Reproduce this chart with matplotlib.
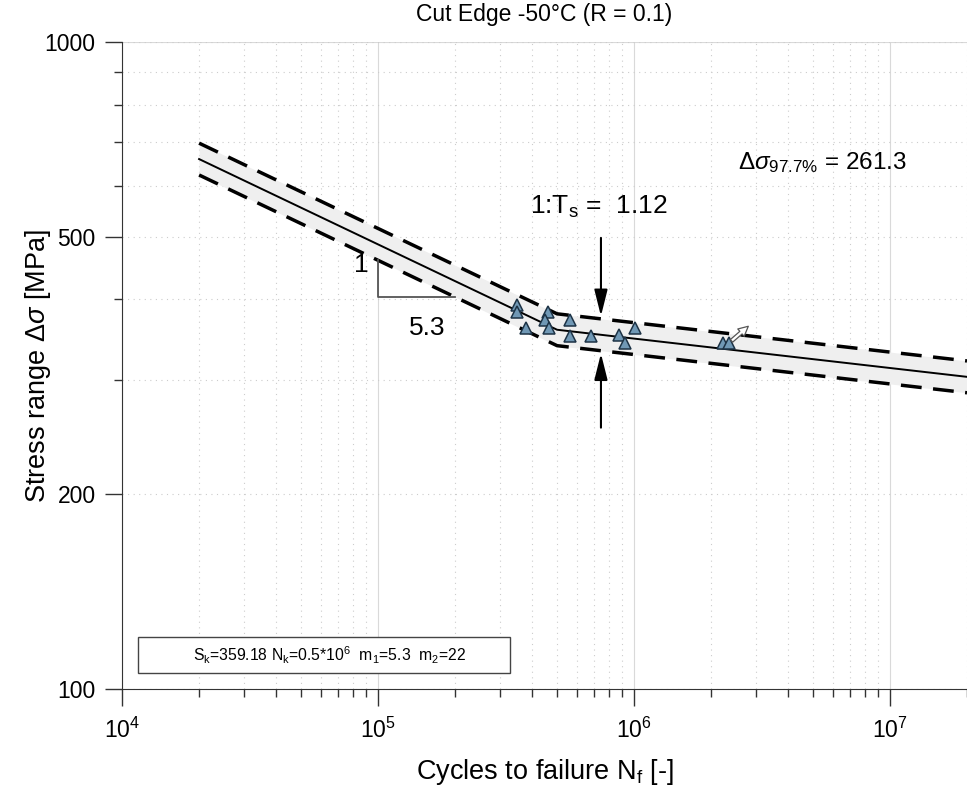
import numpy as np
import matplotlib.pyplot as plt
from matplotlib.patches import Rectangle
from matplotlib.ticker import FixedLocator, NullFormatter, LogLocator

plt.rcParams['font.family'] = ['Liberation Sans', 'DejaVu Sans']
plt.rcParams['mathtext.fontset'] = 'custom'
plt.rcParams['mathtext.rm'] = 'Liberation Sans'
plt.rcParams['mathtext.it'] = 'Liberation Sans:italic'

# S-N parameters
Sk = 359.18
Nk = 0.5e6
m1 = 5.3
m2 = 22
Ts = 1.12
ds_97 = 261.3

# test data
N_test = [3.48e5, 3.48e5, 3.80e5, 4.60e5, 4.48e5, 4.64e5, 5.61e5, 5.61e5,
          6.78e5, 8.73e5, 9.22e5, 1.01e6, 2.23e6, 2.36e6]
S_test = [392, 382, 361, 382, 372, 361, 372, 351,
          351, 352, 343, 361, 343, 343]

# runout (arrow from last point)
runout_start = (2.36e6, 343)
runout_end = (2.85e6, 366)

N = np.logspace(np.log10(2e4), np.log10(2e7), 400)
N = np.sort(np.append(N, Nk))
S = np.where(N < Nk, Sk * (Nk / N) ** (1 / m1), Sk * (Nk / N) ** (1 / m2))
k = np.sqrt(Ts)
S_up = S * k
S_lo = S / k

fig = plt.figure(figsize=(9.67, 7.94), dpi=100)
ax = fig.add_axes([0.1262, 0.1322, 0.8738, 0.8149])

ax.fill_between(N, S_lo, S_up, color='#efefef', lw=0, zorder=1)
ax.plot(N, S, color='black', lw=1.4, zorder=3)
ax.plot(N, S_up, color='black', lw=2.5, dashes=(6, 3.3), zorder=3)
ax.plot(N, S_lo, color='black', lw=2.5, dashes=(6, 3.3), zorder=3)

ax.plot(N_test, S_test, '^', ms=8.5, mfc='#7098b5', mec='#1d3346', mew=1.1, zorder=5)

ax.annotate('', xy=runout_end, xytext=runout_start,
            arrowprops=dict(arrowstyle='simple,head_width=0.7,head_length=0.7,tail_width=0.25',
                            fc='white', ec='#555555', lw=0.9), zorder=6)

# slope triangle on the lower band line
def lower(n):
    return Sk * (Nk / n) ** (1 / m1) / k

ax.plot([1e5, 1e5, 2e5], [lower(1e5), lower(2e5), lower(2e5)], color='#555555', lw=1.3, zorder=4)
ax.text(8.6e4, 452, '1', fontsize=19, ha='center', va='center')
ax.text(1.55e5, 361, '5.3', fontsize=19, ha='center', va='center')

# scatter band arrows
xa = 7.43e5
s_up = Sk * (Nk / xa) ** (1 / m2) * k
s_lo = Sk * (Nk / xa) ** (1 / m2) / k
arrow_style = '-|>,head_width=0.4,head_length=1.6'
ax.annotate('', xy=(xa, s_up), xytext=(xa, 503),
            arrowprops=dict(arrowstyle=arrow_style, color='black', lw=1.5))
ax.annotate('', xy=(xa, s_lo), xytext=(xa, 251),
            arrowprops=dict(arrowstyle=arrow_style, color='black', lw=1.5))
ax.text(3.91e5, 556, r'1:T$_\mathregular{s}$ =  ' + f'{Ts:.2f}', fontsize=19, va='center')

ax.text(2.55e6, 652, r'$\Delta\sigma_{97.7\%}$' + f' = {ds_97:.1f}', fontsize=17.5, va='center')

ax.add_patch(Rectangle((0.0189, 0.0247), 0.44, 0.0557, transform=ax.transAxes,
                       fc='white', ec='#444444', lw=1.0, zorder=6))
ax.text(0.246, 0.0525, r'S$_\mathregular{k}$=359.18 N$_\mathregular{k}$=0.5*10$^\mathregular{6}$  '
        r'm$_\mathregular{1}$=5.3  m$_\mathregular{2}$=22',
        transform=ax.transAxes, fontsize=11.3, va='center', ha='center', zorder=7)

ax.set_xscale('log')
ax.set_yscale('log')
ax.set_xlim(1e4, 2e7)
ax.set_ylim(100, 1000)

ax.yaxis.set_major_locator(FixedLocator([100, 200, 500, 1000]))
ax.set_yticklabels(['100', '200', '500', '1000'])
ax.yaxis.set_minor_locator(FixedLocator([300, 400, 600, 700, 800, 900]))
ax.yaxis.set_minor_formatter(NullFormatter())
ax.xaxis.set_major_locator(LogLocator(base=10, numticks=10))
ax.xaxis.set_minor_locator(LogLocator(base=10, subs=np.arange(2, 10), numticks=20))
ax.xaxis.set_minor_formatter(NullFormatter())

ax.tick_params(which='major', direction='out', length=12, width=1, labelsize=16.5, color='#333333')
ax.tick_params(which='minor', direction='out', length=6, width=1, color='#333333')
ax.tick_params(axis='y', which='major', pad=7)
ax.tick_params(axis='x', which='major', pad=9)
ax.grid(True, axis='x', which='major', color='#d9d9d9', lw=0.8, ls='-')
ax.grid(True, axis='y', which='major', color='#cccccc', lw=0.8, ls=(0, (1, 4)))
ax.grid(True, which='minor', color='#cccccc', lw=0.8, ls=(0, (1, 4)))
ax.axhline(1000, color='#d9d9d9', lw=0.8, zorder=0)
ax.set_axisbelow(True)

ax.spines['top'].set_visible(False)
ax.spines['right'].set_visible(False)
ax.spines['left'].set_color('#333333')
ax.spines['bottom'].set_color('#333333')

ax.set_title('Cut Edge -50°C (R = 0.1)', fontsize=16.5, pad=15)
ax.set_xlabel(r'Cycles to failure N$_\mathregular{f}$ [-]', fontsize=19.5, labelpad=10)
ax.set_ylabel(r'Stress range $\Delta\sigma$ [MPa]', fontsize=19.5, labelpad=-6)

fig.savefig('out.png', dpi=100)
